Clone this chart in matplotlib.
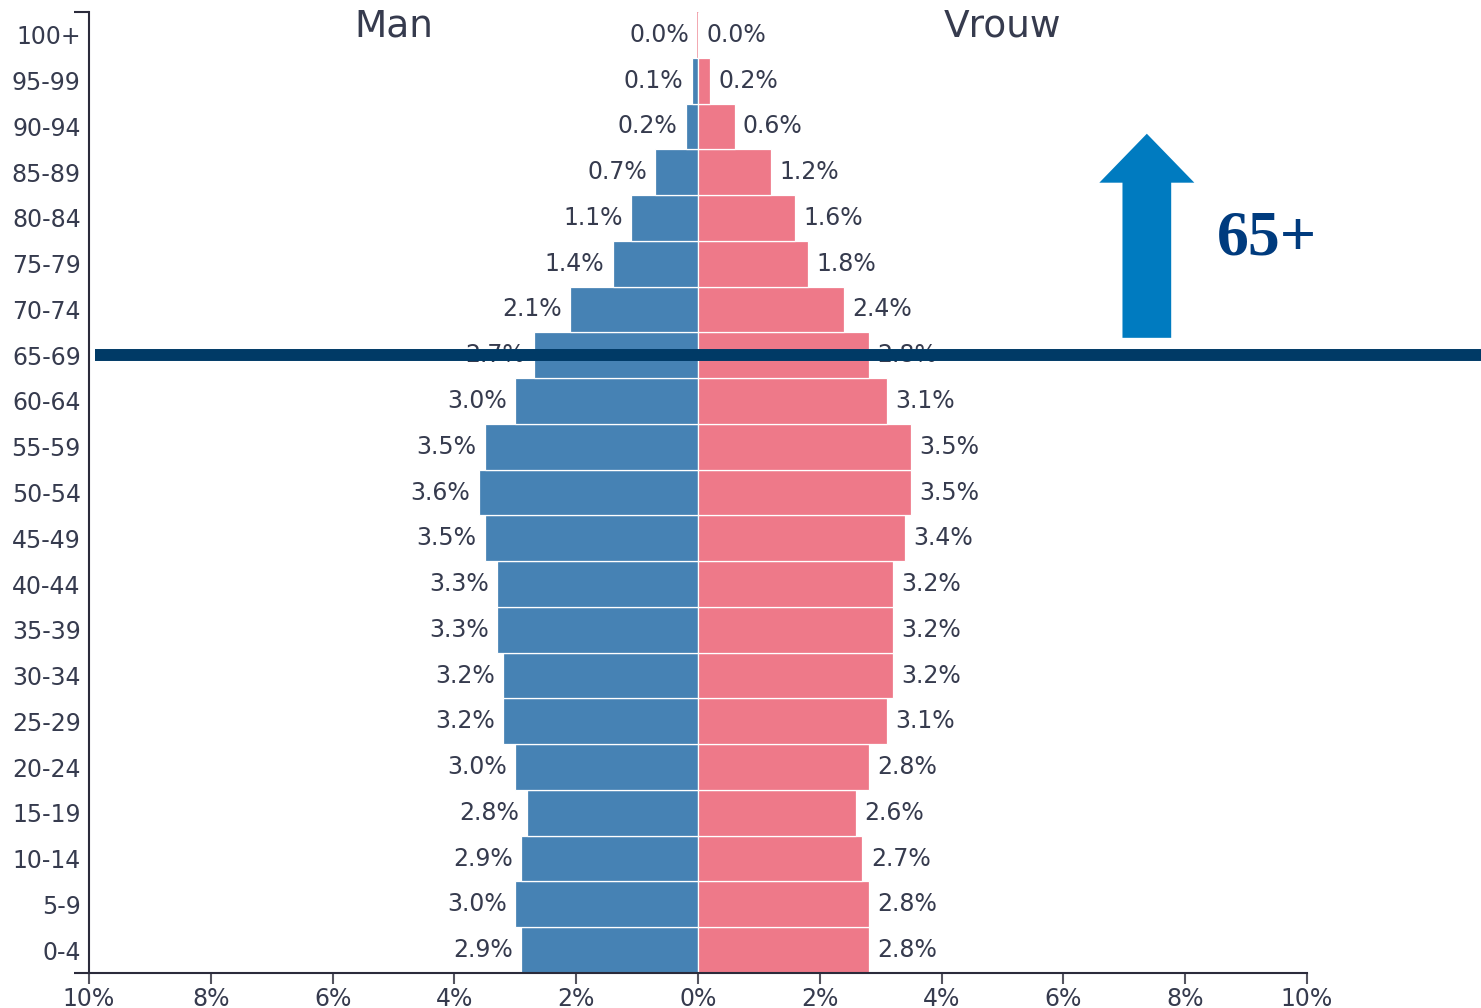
import numpy as np
import matplotlib
matplotlib.use('Agg')
import matplotlib.pyplot as plt
from matplotlib.patches import FancyArrow

# Age groups, bottom to top
age_groups = ['0-4', '5-9', '10-14', '15-19', '20-24', '25-29', '30-34', '35-39',
              '40-44', '45-49', '50-54', '55-59', '60-64', '65-69', '70-74',
              '75-79', '80-84', '85-89', '90-94', '95-99', '100+']
# Share of total population (%)
men = [2.9, 3.0, 2.9, 2.8, 3.0, 3.2, 3.2, 3.3, 3.3, 3.5, 3.6, 3.5, 3.0, 2.7, 2.1,
       1.4, 1.1, 0.7, 0.2, 0.1, 0.0]
women = [2.8, 2.8, 2.7, 2.6, 2.8, 3.1, 3.2, 3.2, 3.2, 3.4, 3.5, 3.5, 3.1, 2.8, 2.4,
         1.8, 1.6, 1.2, 0.6, 0.2, 0.0]
x_ticks = [-10, -8, -6, -4, -2, 0, 2, 4, 6, 8, 10]
marker_group = '65-69'

blue = '#4682b4'
pink = '#ee7989'
txt = '#363b4e'
navy = '#003a66'
fs = 17

fig = plt.figure(figsize=(14.81, 10.08), dpi=100, facecolor='white')
ax = fig.add_axes([89 / 1481, 35 / 1008, 1218 / 1481, 961 / 1008])

y = np.arange(len(age_groups))
m = np.array(men)
w = np.array(women)

ax.vlines(0, -0.5, len(age_groups) - 0.5, color=pink, lw=1.2, zorder=1)
ax.barh(y, -m, height=1.0, color=blue, edgecolor='white', linewidth=0.9, zorder=2)
ax.barh(y, w, height=1.0, color=pink, edgecolor='white', linewidth=0.9, zorder=2)

for yi, v in zip(y, m):
    ax.annotate(f'{v:.1f}%', (-v, yi), xytext=(-6, 0), textcoords='offset points',
                ha='right', va='center', fontsize=fs, color=txt, zorder=3)
for yi, v in zip(y, w):
    ax.annotate(f'{v:.1f}%', (v, yi), xytext=(6, 0), textcoords='offset points',
                ha='left', va='center', fontsize=fs, color=txt, zorder=3)

ax.set_xlim(-10, 10)
ax.set_ylim(-0.5, len(age_groups) - 0.5)

ax.set_yticks(y)
ax.set_yticklabels(age_groups, fontsize=fs, color=txt)
ax.tick_params(axis='y', length=0, pad=6)
ax.set_yticks([-0.5, len(age_groups) - 0.5], minor=True)
ax.tick_params(axis='y', which='minor', length=11, width=1.5, color='#2b2b3b')

ax.set_xticks(x_ticks)
ax.set_xticklabels([f'{abs(t)}%' for t in x_ticks], fontsize=fs, color=txt)
ax.tick_params(axis='x', length=8, width=1.5, color='#555560', pad=2)

for s in ['top', 'right']:
    ax.spines[s].set_visible(False)
for s in ['left', 'bottom']:
    ax.spines[s].set_color('#2b2b3b')
    ax.spines[s].set_linewidth(1.5)

# column headers
ax.text(-5, 19.96, 'Man', ha='center', va='baseline', fontsize=27, color=txt)
ax.text(5, 19.96, 'Vrouw', ha='center', va='baseline', fontsize=27, color=txt)

# 65+ marker line, arrow and label
ym = age_groups.index(marker_group)
ax.plot([-9.9, 13], [ym, ym], color=navy, lw=8.6, solid_capstyle='butt',
        clip_on=False, zorder=5)
ax.add_patch(FancyArrow(7.37, ym + 0.38, 0, 4.46, width=0.8, head_width=1.56,
                        head_length=1.07, length_includes_head=True,
                        color='#007bc0', lw=0, zorder=5))
ax.text(9.34, ym + 2.53, '65+', ha='center', va='center', fontsize=46,
        fontweight='bold', family='Liberation Serif', color='#003b7e', zorder=5)

fig.savefig('out.png', dpi=100, facecolor='white')
